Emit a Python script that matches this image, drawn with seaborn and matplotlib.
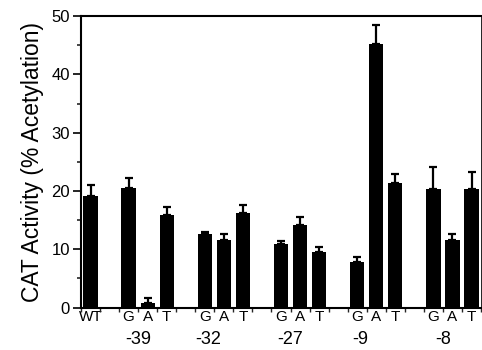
import matplotlib
matplotlib.use("Agg")
import matplotlib.pyplot as plt
import numpy as np
import pandas as pd
import seaborn as sns

# data
groups = ["-39", "-32", "-27", "-9", "-8"]
bases = ["G", "A", "T"]
wt_value = 19.1
wt_err = 2.0
values = [
    [20.5, 0.8, 15.9],
    [12.6, 11.6, 16.2],
    [10.9, 14.2, 9.6],
    [7.9, 45.3, 21.4],
    [20.4, 11.6, 20.4],
]
errors = [
    [1.7, 0.8, 1.3],
    [0.4, 1.1, 1.4],
    [0.5, 1.3, 0.8],
    [0.8, 3.2, 1.5],
    [3.8, 1.0, 2.9],
]
group_label_shift = [0.5, 0.2, 0.5, 0.15, 0.5]

# slot layout: WT, gap, G A T, gap, G A T ...
rows = [{"pos": 0, "value": wt_value, "err": wt_err, "label": "WT"}]
for i, g in enumerate(groups):
    for j, b in enumerate(bases):
        rows.append({"pos": 4 * i + 2 + j, "value": values[i][j],
                     "err": errors[i][j], "label": b})
df = pd.DataFrame(rows)

sns.set_style("ticks")
plt.rcParams["font.family"] = ["Liberation Sans", "DejaVu Sans"]

fig = plt.figure(figsize=(4.82, 3.5), dpi=100)
ax = fig.add_axes([0.168, 0.121, 0.83, 0.833])

sns.barplot(data=df, x="pos", y="value", native_scale=True, color="black",
            saturation=1, width=0.75, errorbar=None, linewidth=0, ax=ax)
ax.errorbar(df["pos"], df["value"], yerr=[np.zeros(len(df)), df["err"]],
            fmt="none", ecolor="black", elinewidth=1.6, capsize=3, capthick=1.6)

ax.set_xlim(-0.5, 20.5)
ax.set_ylim(0, 50)
ax.set_yticks(np.arange(0, 51, 10))
ax.set_yticks(np.arange(5, 50, 10), minor=True)
ax.tick_params(axis="y", which="major", length=6, width=1.2, labelsize=12,
               pad=2, colors="black")
ax.tick_params(axis="y", which="minor", length=3, width=1.2)

ax.set_xticks(df["pos"])
ax.set_xticklabels(df["label"])
ax.set_xticks(np.arange(-0.5, 21, 1), minor=True)
ax.tick_params(axis="x", which="major", length=0, labelsize=11, pad=1.5,
               colors="black")
ax.tick_params(axis="x", which="minor", length=3, width=1.0, direction="out")

for i, g in enumerate(groups):
    ax.text(4 * i + 2 + group_label_shift[i], -5.4, g, ha="center", va="center",
            fontsize=13, color="black")

ax.set_xlabel("")
ax.set_ylabel("CAT Activity (% Acetylation)", fontsize=16.5, labelpad=5,
              color="black")

for side in ["left", "bottom", "top"]:
    ax.spines[side].set_linewidth(1.5)
    ax.spines[side].set_color("black")
ax.spines["right"].set_visible(True)
ax.spines["right"].set_linewidth(0.6)
ax.spines["right"].set_color("black")
ax.spines["top"].set_visible(True)

fig.savefig("out.png", dpi=100)
